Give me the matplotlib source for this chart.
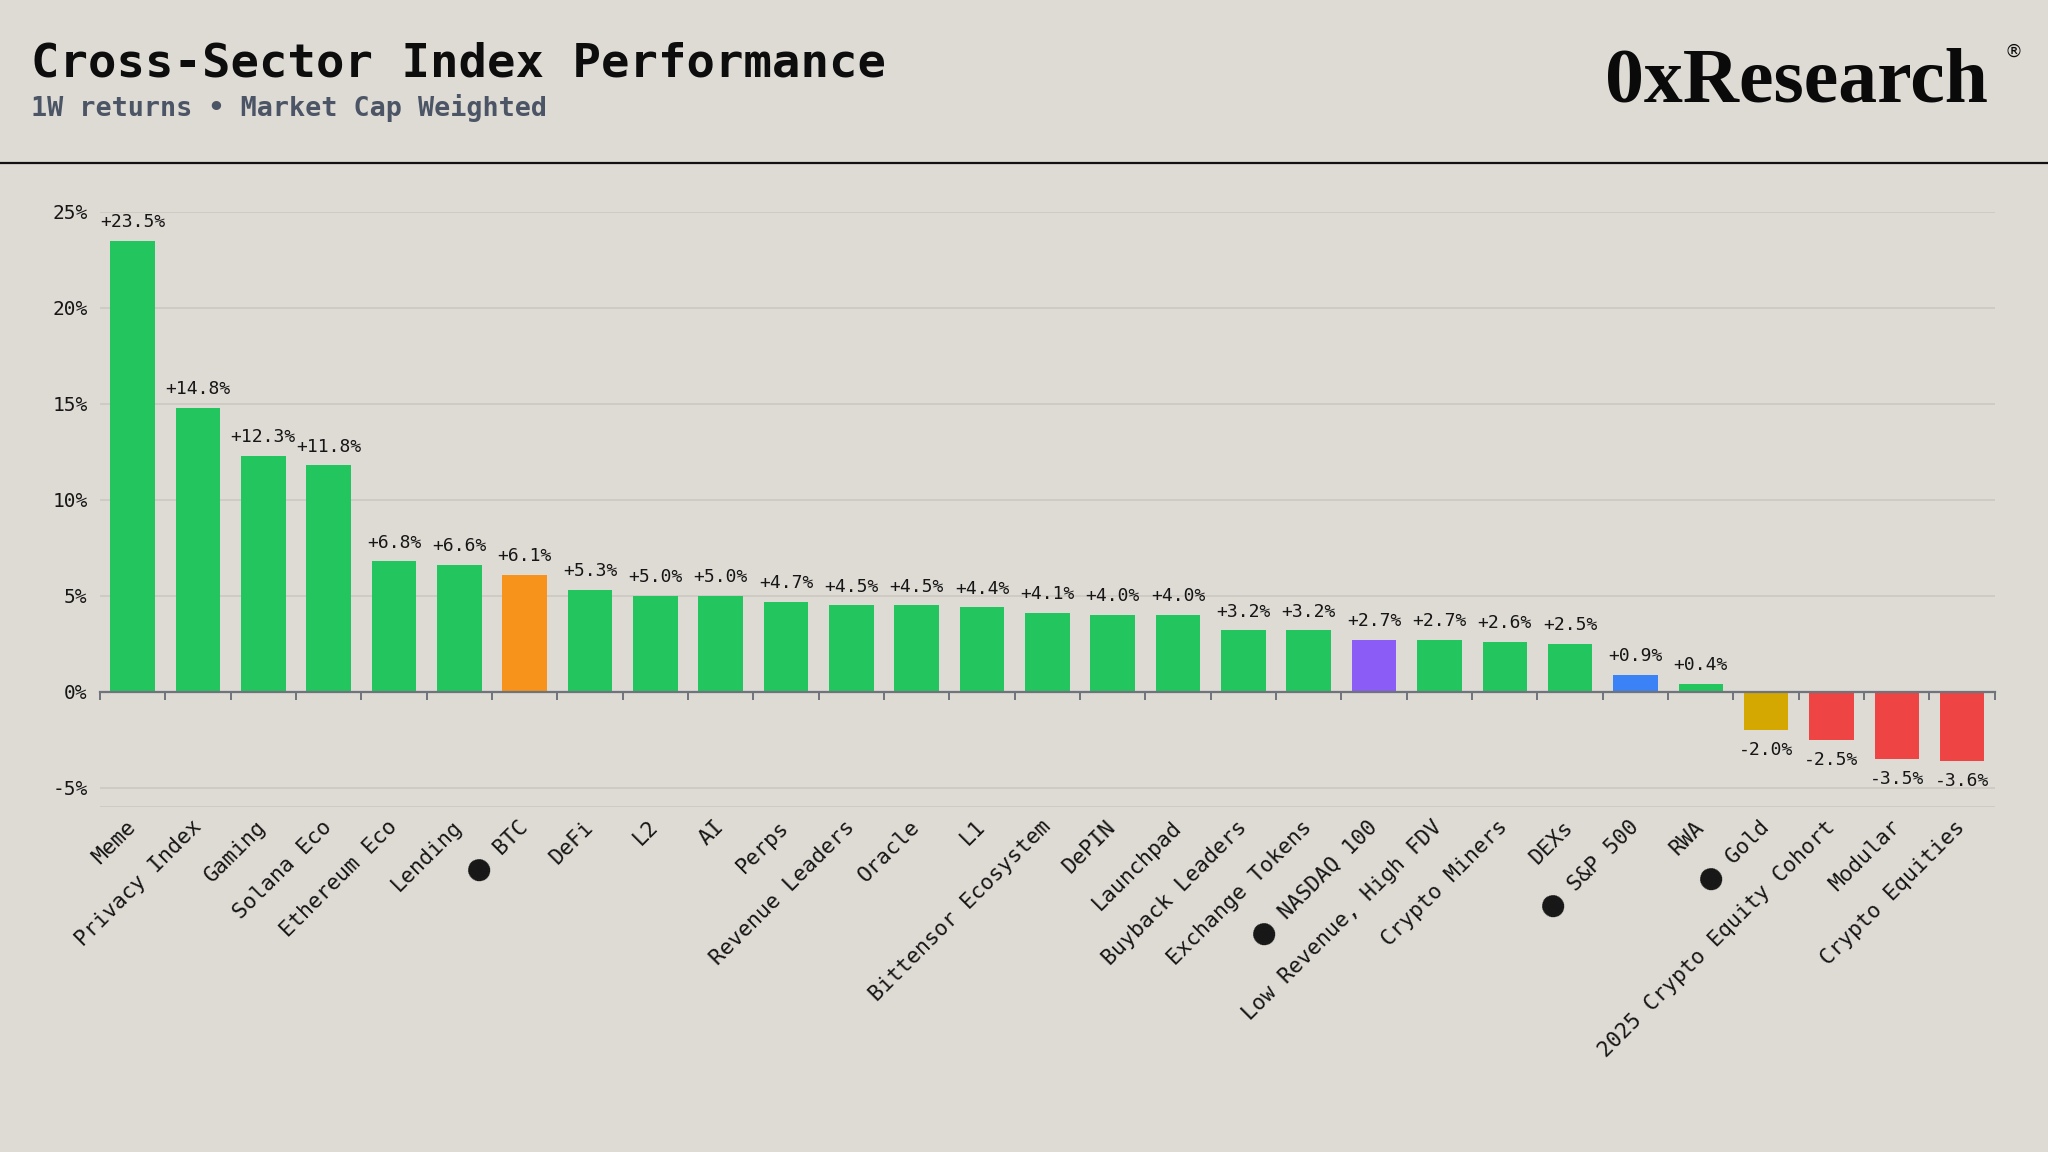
import numpy as np
import matplotlib.pyplot as plt
from matplotlib.lines import Line2D

# ── data ─────────────────────────────────────────
sectors = [
    "Meme", "Privacy Index", "Gaming", "Solana Eco", "Ethereum Eco", "Lending",
    "⬤ BTC", "DeFi", "L2", "AI", "Perps", "Revenue Leaders", "Oracle", "L1",
    "Bittensor Ecosystem", "DePIN", "Launchpad", "Buyback Leaders",
    "Exchange Tokens", "⬤ NASDAQ 100", "Low Revenue, High FDV", "Crypto Miners",
    "DEXs", "⬤ S&P 500", "RWA", "⬤ Gold", "2025 Crypto Equity Cohort",
    "Modular", "Crypto Equities",
]
returns_1w = [
    23.5, 14.8, 12.3, 11.8, 6.8, 6.6, 6.1, 5.3, 5.0, 5.0, 4.7, 4.5, 4.5, 4.4,
    4.1, 4.0, 4.0, 3.2, 3.2, 2.7, 2.7, 2.6, 2.5, 0.9, 0.4, -2.0, -2.5, -3.5, -3.6,
]
y_ticks = [-5, 0, 5, 10, 15, 20, 25]

# ── style ────────────────────────────────────────
BG = "#dedad4"
GRID = "#cdc9c3"
AXIS = "#6f737b"
TXT = "#161616"
SPECIAL = {
    "⬤ BTC": "#f7931a",
    "⬤ NASDAQ 100": "#8b5cf6",
    "⬤ S&P 500": "#3b82f6",
    "⬤ Gold": "#d4a800",
}
POS = "#22c55e"
NEG = "#ef4444"
MONO = "DejaVu Sans Mono"

colors = []
for name, v in zip(sectors, returns_1w):
    if name in SPECIAL:
        colors.append(SPECIAL[name])
    else:
        colors.append(POS if v >= 0 else NEG)

fig = plt.figure(figsize=(20.48, 11.52), dpi=100, facecolor=BG)
ax = fig.add_axes([0.0488, 0.2995, 0.9252, 0.5165], facecolor=BG)

x = np.arange(len(sectors))
ax.bar(x, returns_1w, width=0.68, color=colors, linewidth=0, zorder=3)

# value labels
for xi, v in zip(x, returns_1w):
    txt = f"{v:+.1f}%"
    if v >= 0:
        ax.annotate(txt, (xi, v), xytext=(0, 7), textcoords="offset points",
                    ha="center", va="bottom", fontsize=13, family=MONO, color=TXT)
    else:
        ax.annotate(txt, (xi, v), xytext=(0, -8), textcoords="offset points",
                    ha="center", va="top", fontsize=13, family=MONO, color=TXT)

ax.set_xlim(-0.5, len(sectors) - 0.5)
ax.set_ylim(-6, 25)
ax.set_yticks(y_ticks)
ax.set_yticklabels([f"{t}%" for t in y_ticks], family=MONO, fontsize=14, color=TXT)
ax.tick_params(axis="y", length=0, pad=9)
ax.yaxis.grid(True, color=GRID, lw=1.3, zorder=0)
ax.axhline(-6, color=GRID, lw=1.3, zorder=0)

# x axis sits on zero line, ticks between bars
ax.spines["bottom"].set_position(("data", 0))
ax.spines["bottom"].set_color(AXIS)
ax.spines["bottom"].set_linewidth(1.6)
ax.spines["bottom"].set_zorder(4)
for s in ["top", "left", "right"]:
    ax.spines[s].set_visible(False)

ax.set_xticks(x)
ax.set_xticklabels(sectors, rotation=45, ha="right", va="center",
                   rotation_mode="anchor", family=[MONO, "DejaVu Sans"],
                   fontsize=15.5, color=TXT)
ax.set_xticks(np.arange(len(sectors) + 1) - 0.5, minor=True)
ax.tick_params(axis="x", which="major", length=0, pad=95)
ax.tick_params(axis="x", which="minor", length=6, width=1.4, color=AXIS)

# ── header ───────────────────────────────────────
fig.text(0.0152, 0.934, "Cross-Sector Index Performance", family=MONO,
         fontweight="bold", fontsize=34, color="#0d0d0d", va="baseline")
fig.text(0.0152, 0.899, "1W returns • Market Cap Weighted", family=MONO,
         fontweight="bold", fontsize=19.3, color="#4b5565", va="baseline")
fig.text(0.9705, 0.9115, "0xResearch", family="Liberation Serif",
         fontweight="bold", fontsize=56, color="#0a0a0a", ha="right", va="baseline")
fig.text(0.983, 0.955, "®", family="DejaVu Sans", fontsize=13,
         color="#0a0a0a", ha="center", va="center")
fig.add_artist(Line2D([0, 1], [0.8585, 0.8585], transform=fig.transFigure,
                      color="#111111", lw=1.6))

plt.savefig("out.png", dpi=100, facecolor=BG)
plt.close()
